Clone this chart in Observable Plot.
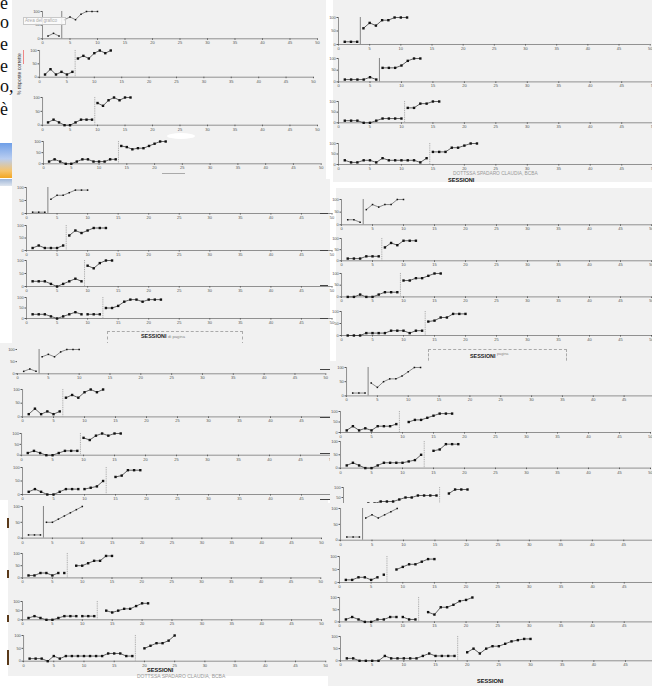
<!DOCTYPE html>
<html><head><meta charset="utf-8">
<script src="https://cdn.jsdelivr.net/npm/d3@7"></script>
<script src="https://cdn.jsdelivr.net/npm/@observablehq/plot@0.6"></script>
<style>
html,body{margin:0;padding:0;background:#fff;width:652px;height:686px;overflow:hidden;}
#root{position:relative;width:652px;height:686px;overflow:hidden;font-family:"Liberation Sans",sans-serif;}
#root div{position:absolute;box-sizing:border-box;}
.grp{background:#f1f1f1;overflow:visible;}
.t{white-space:nowrap;line-height:1;}
.serif{font-family:"Liberation Serif",serif;font-size:18px;line-height:1;color:#111;}
</style></head><body><div id="root"></div>
<script>
// ---- data: % risposte corrette per sessione (null = sessione senza dato) ----
const A1 = [10,20,10,70,80,70,90,100,100,100];
const A2 = [10,30,10,20,10,20,70,80,70,90,100,90,100];
const A3 = [10,20,10,0,0,10,20,20,20,80,70,90,100,90,100,100];
const A4 = [10,20,10,0,0,10,20,20,10,10,10,20,20,80,75,65,70,70,80,90,100,100];
const B1 = [10,10,10,60,80,70,90,90,100,100,100];
const B2 = [10,10,10,10,20,10,60,60,60,70,90,100,100];
const B3 = [10,10,10,0,0,10,20,20,20,20,70,70,90,90,100,100];
const B4 = [20,10,10,20,20,10,30,20,20,20,20,20,10,30,60,60,60,80,80,90,100,100];
const C1 = [5,5,5,55,70,70,80,90,90,90];
const C2 = [10,20,10,10,10,20,60,80,70,80,90,90,90];
const C3 = [20,20,20,10,0,10,20,30,20,80,70,90,100,100];
const C4 = [20,20,20,10,0,10,20,30,20,20,20,20,50,50,60,80,90,90,80,90,90,90];
const D1 = [20,20,10,60,80,70,80,80,100,100];
const D2 = [10,10,10,20,20,20,60,80,70,90,90,90];
const D3 = [0,0,10,0,0,10,20,20,20,70,70,80,80,90,100,100];
const D4 = [0,0,0,10,10,10,10,20,20,20,10,20,20,58,62,75,75,90,90,90];
const E1 = [10,20,10,70,80,70,90,100,100,100];
const E2 = [10,30,10,20,10,20,70,80,70,90,100,90,100];
const E3 = [10,20,10,0,0,10,20,20,20,80,70,90,100,90,100,100];
const E4 = [10,20,10,0,0,10,20,20,20,20,25,30,50,null,65,70,90,90,90];
const F1 = [10,10,10,45,30,50,60,60,70,85,100,100];
const F2 = [10,30,10,20,10,30,30,30,40,null,50,60,60,70,80,90,90,90];
const F3 = [10,20,10,0,0,10,20,20,20,20,25,30,50,null,65,70,90,90,90];
const F4 = [10,10,10,20,20,30,30,30,40,50,50,60,60,60,60,null,70,90,90,90];
const G1 = [10,10,10,50,50,60,70,80,90,100];
const G2 = [10,10,20,20,10,20,20,null,50,50,60,70,70,90,90];
const G3 = [10,20,10,0,0,10,20,20,20,20,20,20,null,50,40,50,60,60,75,90,90];
const G4 = [10,10,10,0,20,10,20,20,20,20,20,20,20,30,30,30,20,20,null,50,60,70,70,80,100];
const H1 = [10,10,10,70,80,70,80,90,100];
const H2 = [10,10,20,20,10,20,30,null,50,60,70,70,80,90,90];
const H3 = [10,20,10,0,0,10,10,20,20,20,10,10,null,40,30,60,60,70,85,90,100];
const H4 = [10,10,0,0,0,0,20,10,10,10,10,10,20,30,20,20,20,20,null,35,50,30,50,60,60,70,80,85,90,90];

// phase-change lines (baseline -> intervento)
const phasesA = [3.5, 6.5, 9.5, 13.5];
const phasesB = [3.5, 6.5, 10.5, 14.5];
const phasesC = [3.5, 6.5, 9.5, 12.5];
const phasesD = [3.5, 6.5, 9.5, 13.5];
const phasesE = [3.5, 6.5, 9.5, 13.5];
const phasesF = [3.5, 9.5, 13.5, 15.5];
const phasesG = [3.5, 7.5, 12.5, 18.5];
const phasesH = [3.5, 7.5, 12.5, 18.5];
// interruptions of the data path (not drawn)
const breaksC = [[], [], [], [9.5]];
const breaksE = [[], [], [], [9.5]];
const breaksG = [[], [6.5], [9.5], []];
const breaksH = [[], [6.5], [9.5], []];

const xTicks = [0,5,10,15,20,25,30,35,40,45,50];
const yTicks = [0,50,100];
const yLabel = "% risposte corrette";
const xLabel = "SESSIONI";
const author = "DOTTSSA SPADARO CLAUDIA, BCBA";

// ---- layout ----
const groups = [
 {panel:{x:12,y:0,w:314,h:179}, charts:[
   {values:A1, phase:phasesA[0], frame:[41.7,316.7,11,38.3], solid:true, small:true},
   {values:A2, phase:phasesA[1], frame:[39.3,313.3,50,76.7]},
   {values:A3, phase:phasesA[2], frame:[41.7,316.7,97.3,125]},
   {values:A4, phase:phasesA[3], frame:[43.3,321,141,163.3]}]},
 {panel:{x:333,y:0,w:319,h:182}, charts:[
   {values:B1, phase:phasesB[0], frame:[338.3,650,17.3,44.3], solid:true},
   {values:B2, phase:phasesB[1], frame:[338.3,653,58.3,81.7], solid:true},
   {values:B3, phase:phasesB[2], frame:[338.3,653,101,122.3]},
   {values:B4, phase:phasesB[3], frame:[338.3,653,142.7,163.7]}]},
 {panel:{x:12,y:179,w:318,h:164}, charts:[
   {values:C1, phase:phasesC[0], breaks:breaksC[0], frame:[26,331.5,187.3,213.3], solid:true, small:true},
   {values:C2, phase:phasesC[1], breaks:breaksC[1], frame:[26,331.5,225,250]},
   {values:C3, phase:phasesC[2], breaks:breaksC[2], frame:[26,331.5,260,286]},
   {values:C4, phase:phasesC[3], breaks:breaksC[3], frame:[26,331.5,296.7,317.7]}]},
 {panel:{x:336,y:188,w:316,h:173}, charts:[
   {values:D1, phase:phasesD[0], frame:[340.7,650.7,199,224.3], solid:true, small:true},
   {values:D2, phase:phasesD[1], frame:[340.7,650.7,237.7,260]},
   {values:D3, phase:phasesD[2], frame:[340.7,650.7,273.3,296.7]},
   {values:D4, phase:phasesD[3], frame:[340.7,650.7,311,335]}]},
 {panel:{x:0,y:343,w:330,h:157}, charts:[
   {values:E1, phase:phasesE[0], breaks:breaksE[0], frame:[16.7,325,349,373.3], solid:true, small:true, noY:true},
   {values:E2, phase:phasesE[1], breaks:breaksE[1], frame:[21.7,331.7,389.3,416.7]},
   {values:E3, phase:phasesE[2], breaks:breaksE[2], frame:[20.7,330.7,433.3,455]},
   {values:E4, phase:phasesE[3], breaks:breaksE[3], frame:[22,332,467.3,494.3]}]},
 {panel:{x:330,y:361,w:322,h:142}, charts:[
   {values:F1, phase:phasesF[0], frame:[346,654.5,367.3,395.7], solid:true, small:true},
   {values:F2, phase:phasesF[1], frame:[340,650,410.7,431.7]},
   {values:F3, phase:phasesF[2], frame:[340,650,440.7,467.3]},
   {values:F4, phase:phasesF[3], frame:[343,653,486.7,506.7]}]},
 {panel:{x:8,y:500,w:320,h:176}, charts:[
   {values:G1, phase:phasesG[0], breaks:breaksG[0], frame:[21.7,320.7,505.7,537.3], solid:true, small:true},
   {values:G2, phase:phasesG[1], breaks:breaksG[1], frame:[21.7,320,553.3,577.7]},
   {values:G3, phase:phasesG[2], breaks:breaksG[2], frame:[21.7,320.7,601,619.3]},
   {values:G4, phase:phasesG[3], breaks:breaksG[3], frame:[22.7,325,635,660.7]}]},
 {panel:{x:328,y:503,w:324,h:183}, charts:[
   {values:H1, phase:phasesH[0], breaks:breaksH[0], frame:[340.2,655,508.3,540], solid:true, small:true},
   {values:H2, phase:phasesH[1], breaks:breaksH[1], frame:[339.3,655.7,555.7,581.7]},
   {values:H3, phase:phasesH[2], breaks:breaksH[2], frame:[339.3,655.7,597.3,621.7]},
   {values:H4, phase:phasesH[3], breaks:breaksH[3], frame:[340,656.7,635.7,660]}]}
];

const root = document.getElementById("root");

function el(parent, css, text, cls) {
  const d = document.createElement("div");
  if (cls) d.className = cls;
  d.style.cssText = "position:absolute;" + css;
  if (text != null) d.textContent = text;
  parent.appendChild(d);
  return d;
}

function drawChart(box, panel, c) {
  const [x0, x50, y100, y0] = c.frame;
  const mL = 16, mR = 8, mT = 3, mB = 9;
  const width = x50 - x0 + mL + mR;
  const height = y0 - y100 + mT + mB;
  const cuts = [c.phase, ...(c.breaks || [])];
  const pts = c.values.map((v, i) => ({s: i + 1, v, seg: cuts.filter(k => k < i + 1).length}));
  const phaseOpts = c.solid
    ? {stroke: "#777", strokeWidth: 0.9}
    : {stroke: "#999", strokeWidth: 0.8, strokeDasharray: "1,0.8"};
  const marks = [
    Plot.ruleY([0], {stroke: "#666", strokeWidth: 0.7}),
    Plot.ruleX([c.phase], phaseOpts),
    Plot.line(pts, {x: "s", y: "v", z: "seg", stroke: "#333", strokeWidth: c.small ? 0.55 : 0.75}),
    Plot.dot(pts, {x: "s", y: "v", symbol: "square", r: c.small ? 0.85 : 1.35, fill: "#111", stroke: "none"})
  ];
  if (!c.noY) marks.splice(1, 0, Plot.ruleX([0], {stroke: "#666", strokeWidth: 0.7}));
  const svg = Plot.plot({
    width, height, marginLeft: mL, marginRight: mR, marginTop: mT, marginBottom: mB,
    style: {background: "transparent", fontSize: "4px", fontFamily: "Liberation Sans, sans-serif", color: "#555", overflow: "visible"},
    x: {domain: [0, 50], ticks: xTicks, tickSize: 1.5, tickPadding: 1.2, tickFormat: "d", label: null},
    y: {domain: [0, 100], ticks: yTicks, tickSize: 1.5, tickPadding: 1.2, tickFormat: "d", label: null},
    marks
  });
  svg.style.position = "absolute";
  svg.style.maxWidth = "none";
  svg.style.width = width + "px";
  svg.style.height = height + "px";
  svg.style.left = (x0 - mL - panel.x) + "px";
  svg.style.top = (y100 - mT - panel.y) + "px";
  box.appendChild(svg);
}

const boxes = [];
groups.forEach(g => {
  const p = g.panel;
  const box = el(root, `left:${p.x}px;top:${p.y}px;width:${p.w}px;height:${p.h}px;`, null, "grp");
  boxes.push(box);
  g.charts.forEach(c => drawChart(box, p, c));
});

// ---- decorations & texts ----
const [bA, bB, bC, bD, bE, bF, bG, bH] = boxes;
// group A
el(bA, "left:11px;top:17px;width:43px;height:8px;border:0.6px solid #c8c8c8;background:rgba(252,252,252,0.85);");
el(bA, "left:13px;top:18.8px;font-size:4.6px;color:#aaa;", "Area del grafico", "t");
el(bA, "left:5px;top:95px;font-size:5px;color:#333;transform:rotate(-90deg);transform-origin:0 0;", yLabel, "t");
el(bA, "left:10.5px;top:50px;width:0.9px;height:14px;background:#e88;");
el(bA, "left:155px;top:133px;width:28px;height:6px;border-radius:50%;background:#fff;");
el(bA, "left:150px;top:173px;width:23px;height:0.7px;background:#aaa;");
// group B
el(bB, "left:120px;top:172.3px;font-size:4.8px;color:#999;", author, "t");
el(bB, "left:115px;top:177.5px;font-size:5.6px;font-weight:bold;color:#111;", xLabel, "t");
// group C
el(bC, "left:95px;top:152px;width:136px;height:14px;border:0.7px dashed #aaa;");
el(bC, "left:129px;top:155px;font-size:5.4px;font-weight:bold;color:#222;", xLabel, "t");
el(bC, "left:156px;top:156px;font-size:4.2px;color:#888;", "di pagina", "t");
// group D
el(bD, "left:92px;top:161px;width:139px;height:16px;border:0.7px dashed #aaa;");
el(bD, "left:134px;top:166px;font-size:5.4px;font-weight:bold;color:#222;", xLabel, "t");
el(bD, "left:161px;top:165px;font-size:3.8px;color:#888;", "pagina", "t");
// marks between C and D
[213, 250, 285, 318].forEach(y => el(root, `left:320px;top:${y}px;width:8px;height:0.8px;background:#444;`));
// group G
el(bG, "left:129px;top:173.5px;font-size:5px;color:#999;", author, "t");
el(bG, "left:139px;top:167.5px;font-size:5.6px;font-weight:bold;color:#111;", xLabel, "t");
[[518,10],[570,8],[615,7],[650,15]].forEach(([y,h]) => el(root, `left:7px;top:${y}px;width:2px;height:${h}px;background:#5a3a1a;`));
// group H
el(bH, "left:149px;top:176px;font-size:5.6px;font-weight:bold;color:#111;", xLabel, "t");
// F left marks
[369, 417, 453, 499].forEach(y => el(bF, `left:-10px;top:${y-361}px;width:10px;height:0.8px;background:#444;`));

// left-edge page fragments
const fragTops = [-6, 13, 35, 57, 77, 100];
["e","o","e","e","o,","è"].forEach((ch, i) => {
  el(root, `left:0px;top:${fragTops[i]}px;`, ch, "serif");
});
el(root, "left:0px;top:143px;width:12px;height:35px;background:linear-gradient(#6f9fe8,#b9cdf0 45%,#f6c36a 80%,#f2a623);");
el(root, "left:0px;top:179px;width:12px;height:7px;background:linear-gradient(#9fb6d8,#dfe6ef);");
</script>
</body></html>
